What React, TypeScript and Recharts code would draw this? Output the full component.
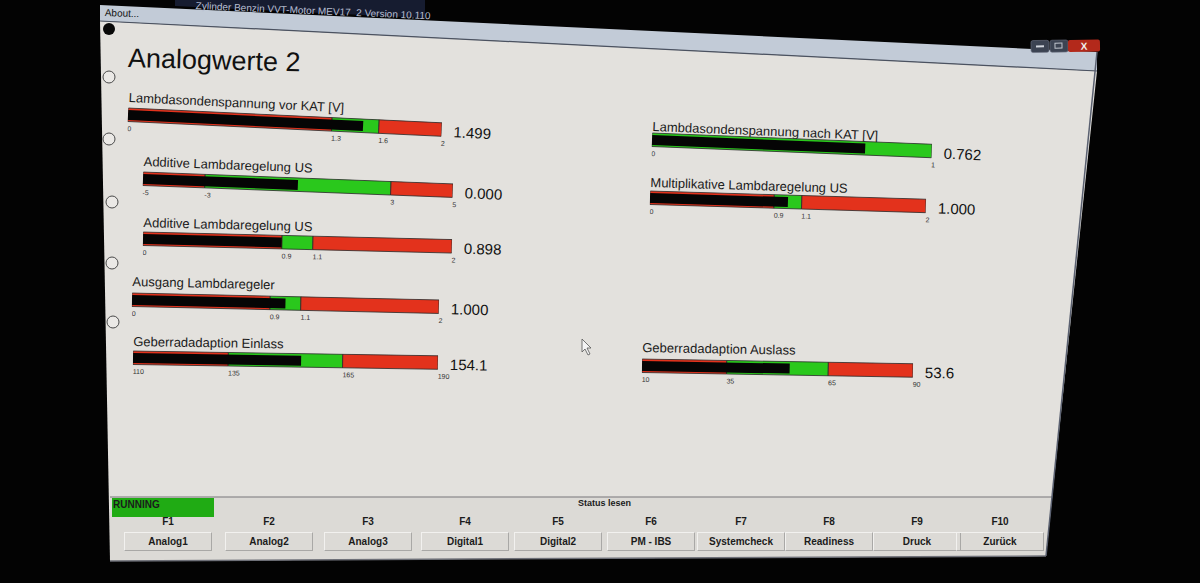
import React from 'react';
import { BarChart, Bar, XAxis, YAxis } from 'recharts';

const FONT = '"Liberation Sans", Arial, sans-serif';
const RED = '#e3321c';
const GREEN = '#2ac81c';

// ============================================
// Gauge values
// ============================================

const gaugeNames = [
  'Lambdasondenspannung vor KAT [V]',
  'Additive Lambdaregelung US',
  'Additive Lambdaregelung US',
  'Ausgang Lambdaregeler',
  'Geberradadaption Einlass',
  'Lambdasondenspannung nach KAT [V]',
  'Multiplikative Lambdaregelung US',
  'Geberradadaption Auslass',
];
const rangeMin = [0, -5, 0, 0, 110, 0, 0, 10];
const rangeMax = [2, 5, 2, 2, 190, 1, 2, 90];
const greenFrom = [1.3, -3, 0.9, 0.9, 135, 0, 0.9, 35];
const greenTo = [1.6, 3, 1.1, 1.1, 165, 1, 1.1, 65];
const readings = [1.499, 0.0, 0.898, 1.0, 154.1, 0.762, 1.0, 53.6];
const readingDecimals = [3, 3, 3, 3, 1, 3, 3, 1];
const scaleTicks = [
  [0, 1.3, 1.6, 2],
  [-5, -3, 3, 5],
  [0, 0.9, 1.1, 2],
  [0, 0.9, 1.1, 2],
  [110, 135, 165, 190],
  [0, 1],
  [0, 0.9, 1.1, 2],
  [10, 35, 65, 90],
];

const fKeys = ['F1', 'F2', 'F3', 'F4', 'F5', 'F6', 'F7', 'F8', 'F9', 'F10'];
const fKeyLabels = [
  'Analog1',
  'Analog2',
  'Analog3',
  'Digital1',
  'Digital2',
  'PM - IBS',
  'Systemcheck',
  'Readiness',
  'Druck',
  'Zurück',
];

// placement on the (photographed) screen: [barLeft, barTop, barWidth, tiltDeg, labelGap]
const gaugeLayout = [
  [128, 107, 314, 2.7, 5],
  [143, 171, 310, 2.2, 5],
  [143, 231, 309, 1.4, 4],
  [132, 292, 307, 1.3, 6],
  [133, 350, 305, 0.9, 4],
  [652, 132, 280, 2.3, 1],
  [650, 190, 276, 1.7, 3],
  [642, 358, 271, 1.0, 6],
];
const buttonCenters = [168, 269, 368, 465, 558, 651, 741, 829, 917, 1000];

const BAR_H = 15;
const AXIS_H = 12;

const fmt = (v: number) => String(Number(v.toFixed(3)));

// ============================================
// Gauge
// ============================================

function Gauge({ index }: { index: number }) {
  const lo = rangeMin[index];
  const span = rangeMax[index] - lo;
  const [left, top, width, tilt, gap] = gaugeLayout[index];

  const row = [
    {
      key: gaugeNames[index],
      lowRed: greenFrom[index] - lo,
      green: greenTo[index] - greenFrom[index],
      highRed: rangeMax[index] - greenTo[index],
      reading: readings[index] - lo,
    },
  ];

  const renderTick = (props: any) => {
    const { x, y, payload } = props;
    return (
      <text x={x} y={y + 9} textAnchor="start" fontSize={7} fill="#333" fontFamily={FONT}>
        {fmt(payload.value + lo)}
      </text>
    );
  };

  return (
    <div
      style={{
        position: 'absolute',
        left,
        top,
        width: width + 80,
        height: BAR_H + AXIS_H,
        transform: `rotate(${tilt}deg)`,
        transformOrigin: `0px ${BAR_H / 2}px`,
      }}
    >
      <div
        style={{
          position: 'absolute',
          left: 0,
          top: -(gap + 11.5),
          fontSize: 13,
          lineHeight: '14px',
          color: '#1a1a1a',
          whiteSpace: 'nowrap',
          fontFamily: FONT,
        }}
      >
        {gaugeNames[index]}
      </div>
      <BarChart
        layout="vertical"
        width={width + 16}
        height={BAR_H + AXIS_H}
        data={row}
        margin={{ top: 0, right: 16, bottom: 0, left: 0 }}
        barCategoryGap={0}
      >
        <XAxis
          type="number"
          domain={[0, span]}
          ticks={scaleTicks[index].map((t) => t - lo)}
          interval={0}
          axisLine={false}
          tickLine={false}
          tickSize={0}
          tickMargin={0}
          height={AXIS_H}
          tick={renderTick}
          allowDataOverflow
        />
        <YAxis yAxisId="zones" type="category" dataKey="key" hide />
        <YAxis yAxisId="reading" type="category" dataKey="key" hide />
        <Bar yAxisId="zones" dataKey="lowRed" stackId="z" fill={RED} stroke="#2a2a2a" strokeWidth={0.8} barSize={BAR_H} isAnimationActive={false} />
        <Bar yAxisId="zones" dataKey="green" stackId="z" fill={GREEN} stroke="#2a2a2a" strokeWidth={0.8} barSize={BAR_H} isAnimationActive={false} />
        <Bar yAxisId="zones" dataKey="highRed" stackId="z" fill={RED} stroke="#2a2a2a" strokeWidth={0.8} barSize={BAR_H} isAnimationActive={false} />
        <Bar yAxisId="reading" dataKey="reading" fill="#050505" barSize={10} isAnimationActive={false} />
      </BarChart>
      <div
        style={{
          position: 'absolute',
          left: width + 12,
          top: BAR_H / 2 - 7.5 + 2,
          fontSize: 15,
          lineHeight: '15px',
          color: '#111',
          fontFamily: FONT,
          whiteSpace: 'nowrap',
        }}
      >
        {readings[index].toFixed(readingDecimals[index])}
      </div>
    </div>
  );
}

// ============================================
// Screen
// ============================================

export default function App() {
  const small: React.CSSProperties = {
    position: 'absolute',
    fontFamily: FONT,
    fontWeight: 'bold',
    fontSize: 10,
    lineHeight: '12px',
    color: '#1b1b1b',
    whiteSpace: 'nowrap',
  };

  return (
    <div
      style={{
        position: 'absolute',
        left: 0,
        top: 0,
        width: 1200,
        height: 583,
        overflow: 'hidden',
        background: '#030303',
        fontFamily: FONT,
      }}
    >
      <svg width={1200} height={583} style={{ position: 'absolute', left: 0, top: 0 }}>
        <polygon points="100,21 1097,71 1046,556 110,561" fill="#e3e1dd" />
        <polygon points="110,497 1052,497 1046,556 110,561" fill="#dcdad6" />
        <line x1={110} y1={497} x2={1052} y2={497} stroke="#78777a" strokeWidth={1.2} />
        <polygon points="100,5 1097,52 1097,71 100,21" fill="#c2cbd7" />
        <line x1={100} y1={21} x2={1097} y2={71} stroke="#4b5260" strokeWidth={1.2} />
        <line x1={110} y1={561} x2={1046} y2={556} stroke="#6e7078" strokeWidth={1.5} />
        <line x1={1097} y1={52} x2={1046} y2={556} stroke="#5a6070" strokeWidth={1.5} />
        <polygon points="175,0 425,0 425,18 175,6" fill="#161c30" />
        <g transform="rotate(-1 1065 46)">
          <rect x={1031} y={40} width={18} height={12} rx={2} fill="#3c4352" stroke="#6a7080" strokeWidth={0.6} />
          <rect x={1036} y={45} width={8} height={2} fill="#d0d4dc" />
          <rect x={1050} y={40} width={18} height={12} rx={2} fill="#3c4352" stroke="#6a7080" strokeWidth={0.6} />
          <rect x={1055} y={43} width={7} height={5} fill="none" stroke="#c0c4cc" strokeWidth={1} />
          <rect x={1068} y={40} width={32} height={12} rx={2} fill="#b3291b" />
          <text x={1084} y={50} textAnchor="middle" fontSize={10} fontWeight="bold" fill="#f0f0f0" fontFamily={FONT}>
            X
          </text>
        </g>
        <circle cx={109} cy={29} r={6} fill="#080808" />
        {[
          [109, 77],
          [109, 139],
          [112, 202],
          [112, 263],
          [113, 322],
        ].map(([cx, cy], i) => (
          <circle key={i} cx={cx} cy={cy} r={6} fill="#ebe9e6" stroke="#4a4a4a" strokeWidth={1} />
        ))}
        <path d="M582,339 L582,352 L585,349 L588,355 L590,354 L587,348 L591,348 Z" fill="#f4f4f4" stroke="#555" strokeWidth={0.8} />
        <rect x={112} y={498} width={102} height={19} fill="#20ab14" />
      </svg>

      <div
        style={{
          position: 'absolute',
          left: 196,
          top: 0,
          fontSize: 10,
          lineHeight: '11px',
          color: '#b8bfd2',
          whiteSpace: 'nowrap',
          transform: 'rotate(2.5deg)',
          transformOrigin: '0 0',
        }}
      >
        Zylinder Benzin VVT-Motor MEV17_2 Version 10.110
      </div>
      <div
        style={{
          position: 'absolute',
          left: 105,
          top: 7,
          fontSize: 10,
          color: '#151515',
          transform: 'rotate(2deg)',
          transformOrigin: '0 0',
        }}
      >
        About...
      </div>

      <div
        style={{
          position: 'absolute',
          left: 128,
          top: 43,
          fontSize: 27,
          lineHeight: '30px',
          color: '#111',
          transform: 'rotate(1.5deg)',
          transformOrigin: '0 50%',
        }}
      >
        Analogwerte 2
      </div>

      {gaugeNames.map((_, i) => (
        <Gauge key={i} index={i} />
      ))}

      <div style={{ ...small, left: 113, top: 499 }}>RUNNING</div>
      <div style={{ ...small, left: 578, top: 497, fontSize: 9 }}>Status lesen</div>

      {fKeys.map((k, i) => (
        <div key={k}>
          <div style={{ ...small, left: buttonCenters[i] - 30, width: 60, textAlign: 'center', top: 516 }}>{k}</div>
          <div
            style={{
              position: 'absolute',
              left: buttonCenters[i] - 44,
              top: 532,
              width: 88,
              height: 19,
              borderRight: '1px solid #a9a8a6',
              borderBottom: '1px solid #a9a8a6',
              borderLeft: '1px solid #f2f1ef',
              borderTop: '1px solid #f2f1ef',
              boxSizing: 'border-box',
            }}
          />
          <div style={{ ...small, left: buttonCenters[i] - 44, width: 88, textAlign: 'center', top: 536 }}>
            {fKeyLabels[i]}
          </div>
        </div>
      ))}
    </div>
  );
}
